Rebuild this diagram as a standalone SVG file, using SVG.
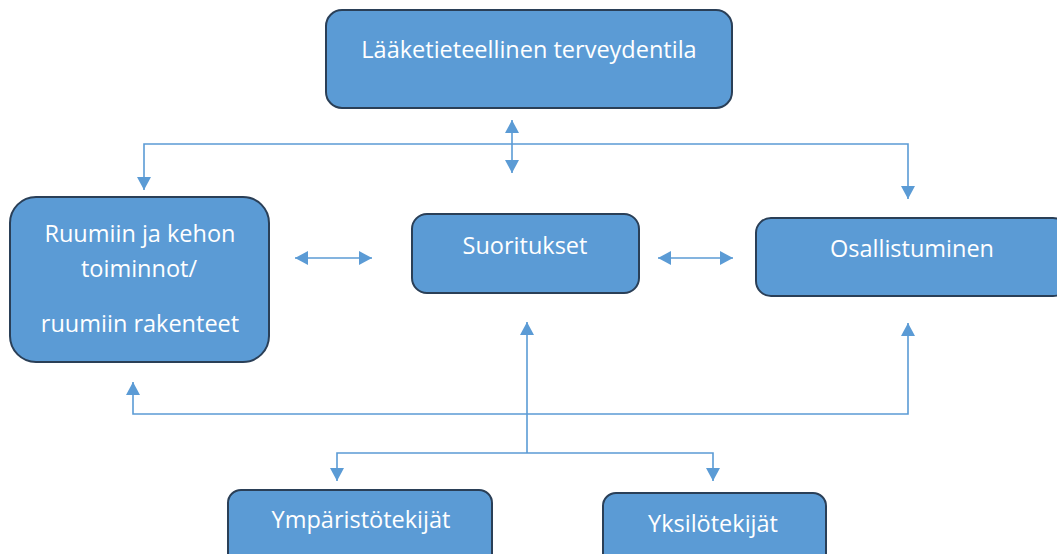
<svg xmlns="http://www.w3.org/2000/svg" width="1057" height="554" viewBox="0 0 1057 554">
<style>
.box{fill:#5B9BD5;stroke:#2A3F57;stroke-width:2}
.lbl{font-family:"Open Sans","Noto Sans","DejaVu Sans",sans-serif;font-size:23.5px;fill:#ffffff;text-anchor:middle}
.con{fill:none;stroke:#5B9BD5;stroke-width:1.6}
</style>
<defs>
<marker id="ah" markerUnits="userSpaceOnUse" markerWidth="14" markerHeight="14" refX="13" refY="7" orient="auto-start-reverse" viewBox="0 0 14 14">
<path d="M0,0 L13,7 L0,14 z" fill="#5B9BD5"/>
</marker>
</defs>
<g id="connectors">
<path class="con" d="M512,120 V173" marker-start="url(#ah)" marker-end="url(#ah)"/>
<path class="con" d="M144,190 V144 H908 V199" marker-start="url(#ah)" marker-end="url(#ah)"/>
<path class="con" d="M295,258 H372" marker-start="url(#ah)" marker-end="url(#ah)"/>
<path class="con" d="M658,258 H733" marker-start="url(#ah)" marker-end="url(#ah)"/>
<path class="con" d="M133,382 V414 H908 V323" marker-start="url(#ah)" marker-end="url(#ah)"/>
<path class="con" d="M527,322 V453" marker-start="url(#ah)"/>
<path class="con" d="M337,481 V453 H713 V481" marker-start="url(#ah)" marker-end="url(#ah)"/>
</g>
<g id="node-terveydentila">
<rect class="box" x="326" y="10" width="406" height="98" rx="16"/>
<text class="lbl" x="529" y="58">Lääketieteellinen terveydentila</text>
</g>
<g id="node-ruumiin">
<rect class="box" x="10" y="197" width="259" height="165" rx="26"/>
<text class="lbl" x="140" y="242">Ruumiin ja kehon</text>
<text class="lbl" x="139" y="277">toiminnot/</text>
<text class="lbl" x="140" y="332">ruumiin rakenteet</text>
</g>
<g id="node-suoritukset">
<rect class="box" x="412" y="214" width="227" height="79" rx="15"/>
<text class="lbl" x="525" y="254">Suoritukset</text>
</g>
<g id="node-osallistuminen">
<rect class="box" x="756" y="218" width="312" height="78" rx="15"/>
<text class="lbl" x="912" y="257">Osallistuminen</text>
</g>
<g id="node-ymparisto">
<rect class="box" x="228" y="490" width="264" height="80" rx="13"/>
<text class="lbl" x="361" y="528">Ympäristötekijät</text>
</g>
<g id="node-yksilo">
<rect class="box" x="603" y="493" width="223" height="80" rx="13"/>
<text class="lbl" x="713" y="532">Yksilötekijät</text>
</g>
</svg>
